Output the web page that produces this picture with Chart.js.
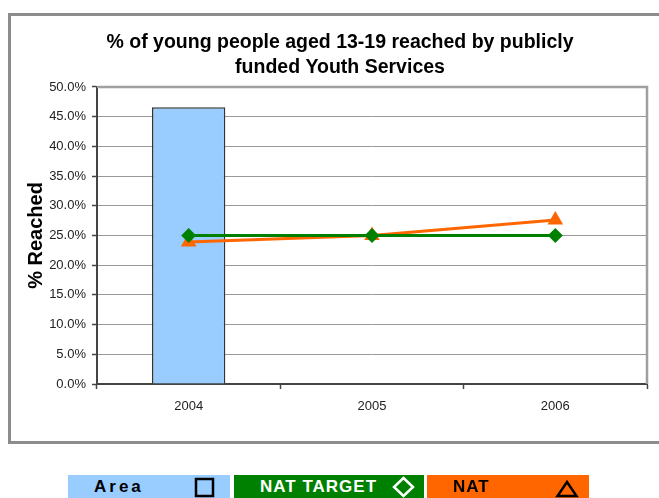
<!DOCTYPE html>
<html lang="en">
<head>
<meta charset="UTF-8">
<title>% of young people reached</title>
<script src="https://cdn.jsdelivr.net/npm/chart.js"></script>
<style>
body { margin: 0; background: #fff; font-family: "Liberation Sans", Arial, sans-serif; }
#frame { position: absolute; left: 8px; top: 13px; width: 700px; height: 425px; border: 3px solid #8c8c8c; }
#chart { position: absolute; left: 0; top: 0; }
.key { position: absolute; top: 475px; height: 23px; line-height: 23px; font-size: 17px; font-weight: bold; }
.key span { position: absolute; top: 0; }
.key svg { position: absolute; top: 0; }
</style>
</head>
<body>
<div id="frame"></div>
<canvas id="chart" width="659" height="498"></canvas>

<div class="key" style="left:68px; width:162px; background:#99ccff; color:#000;">
	<span style="left:26px; letter-spacing:3px;">Area</span>
	<svg width="162" height="23"><rect x="128" y="4" width="17" height="17" fill="none" stroke="#000" stroke-width="2.5"/></svg>
</div>
<div class="key" style="left:234px; width:190px; background:#008000; color:#fff;">
	<span style="left:26px; letter-spacing:1px;">NAT TARGET</span>
	<svg width="190" height="23"><polygon points="169.5,3 179,12 169.5,21 160,12" fill="none" stroke="#fff" stroke-width="2.5"/></svg>
</div>
<div class="key" style="left:427px; width:162px; background:#ff6600; color:#000;">
	<span style="left:26px; letter-spacing:1px;">NAT</span>
	<svg width="162" height="23"><polygon points="140,7 149.5,21 130.5,21" fill="none" stroke="#000" stroke-width="2.5"/></svg>
</div>

<script type="text/javascript">

const years = ['2004', '2005', '2006'];
const areaValues = [46.6, null, null];
const natTarget = [25.0, 25.0, 25.0];
const natValues = [23.9, 25.0, 27.6];

const fontFamily = '"Liberation Sans", Arial, sans-serif';

// gray border on top and right of the plot, like the Excel plot area
const plotBorder = {
	id: 'plotBorder',
	beforeDatasetsDraw(chart) {
		const ctx = chart.ctx;
		const a = chart.chartArea;
		ctx.save();
		ctx.strokeStyle = '#a0a0a0';
		ctx.lineWidth = 2.5;
		ctx.beginPath();
		ctx.moveTo(a.left, a.top);
		ctx.lineTo(a.right, a.top);
		ctx.lineTo(a.right, a.bottom);
		ctx.stroke();
		ctx.restore();
	}
};

const config = {
	type: 'bar',
	data: {
		labels: years,
		datasets: [{
			type: 'line',
			label: 'NAT TARGET',
			data: natTarget,
			borderColor: '#008000',
			backgroundColor: '#008000',
			borderWidth: 3,
			pointStyle: 'rectRot',
			pointRadius: 7.5,
			pointBorderWidth: 0,
			order: 0
		}, {
			type: 'line',
			label: 'NAT',
			data: natValues,
			borderColor: '#ff6600',
			backgroundColor: '#ff6600',
			borderWidth: 3,
			pointStyle: 'triangle',
			pointRadius: 9,
			pointBorderWidth: 0,
			order: 1
		}, {
			type: 'bar',
			label: 'Area',
			data: areaValues,
			backgroundColor: '#99ccff',
			borderColor: '#333333',
			borderWidth: 1.5,
			barPercentage: 0.4,
			categoryPercentage: 1.0,
			order: 2
		}]
	},
	options: {
		responsive: false,
		devicePixelRatio: 1,
		animation: false,
		layout: { padding: { left: 33, right: 12, top: 0, bottom: 0 } },
		plugins: {
			legend: { display: false },
			tooltip: { enabled: false },
			title: {
				display: true,
				text: ['% of young people aged 13-19 reached by publicly', 'funded Youth Services'],
				color: '#000',
				font: { family: fontFamily, size: 19.5, weight: 'bold', lineHeight: 1.282 },
				padding: { top: 30, bottom: 7 }
			}
		},
		scales: {
			x: {
				offset: true,
				grid: { display: true, drawOnChartArea: false, drawTicks: true, offset: true, tickLength: 5, tickColor: '#444', tickWidth: 1.5 },
				border: { color: '#444', width: 2 },
				ticks: { color: '#222', font: { family: fontFamily, size: 13 }, padding: 10, maxRotation: 0 },
				afterFit: function (scale) { scale.height = 114; }
			},
			y: {
				min: 0,
				max: 50,
				grid: { color: '#999', lineWidth: 1, tickLength: 5, tickColor: '#444', tickWidth: 1.5 },
				border: { color: '#444', width: 2 },
				ticks: {
					stepSize: 5,
					color: '#222',
					padding: 6,
					font: { family: fontFamily, size: 13 },
					callback: function (v) { return v.toFixed(1) + '%'; }
				},
				title: {
					display: true,
					text: '% Reached',
					color: '#000',
					font: { family: fontFamily, size: 20, weight: 'bold', lineHeight: 0.3 },
					padding: 0
				},
				afterFit: function (scale) { scale.width = 64; }
			}
		}
	},
	plugins: [plotBorder]
};

var myChart = new Chart(document.getElementById('chart'), config);

</script>
</body>
</html>
